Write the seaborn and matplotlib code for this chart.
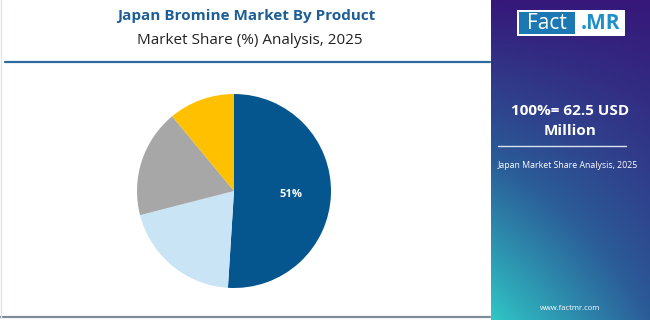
import numpy as np
import matplotlib.pyplot as plt
import seaborn as sns
from matplotlib.colors import LinearSegmentedColormap
from matplotlib.patches import Rectangle

sns.set_style('white')
plt.rcParams['font.family'] = ['Open Sans', 'DejaVu Sans']

# data
products = ['Product A', 'Product B', 'Product C', 'Product D']
shares = [51, 20, 18, 11]
colors = ['#05568F', '#C9E4F4', '#A7A7A7', '#FFC000']

title = 'Japan Bromine Market By Product'
subtitle = 'Market Share (%) Analysis, 2025'
total_text = '100%= 62.5 USD\nMillion'
side_note = 'Japan Market Share Analysis, 2025'
url = 'www.factmr.com'

W, H = 650, 320
fig = plt.figure(figsize=(6.5, 3.2), dpi=100)

# background layer in pixel coords
bg = fig.add_axes([0, 0, 1, 1])
bg.set_xlim(0, W)
bg.set_ylim(H, 0)
bg.axis('off')

# right panel gradient
cmap = LinearSegmentedColormap.from_list('panel', ['#36187A', '#2B5C98', '#30C6C6'])
ny, nx = 200, 100
yy, xx = np.mgrid[0:1:ny * 1j, 0:1:nx * 1j]
grad = yy * (1 - 0.5 * xx)
bg.imshow(grad, cmap=cmap, extent=[491, W, H, 0], aspect='auto', zorder=1)

# borders and separator
bg.plot([5, 490], [62, 62], color='#2C6C9E', lw=1.6, zorder=2)
bg.plot([0, 490], [317, 317], color='#7F8C98', lw=1.6, zorder=2)
bg.plot([1, 1], [0, 317], color='#E2E6EA', lw=1, zorder=2)

bg.text(246, 16, title, ha='center', va='center', fontsize=11,
        fontweight='bold', color='#1D5E96')
bg.text(250, 41, subtitle, ha='center', va='center', fontsize=11,
        color='#222222')

# logo
bg.add_patch(Rectangle((517, 10), 108, 26, facecolor='white', edgecolor='none', zorder=3))
bg.add_patch(Rectangle((519, 12), 56, 22, facecolor='#1C78B2', edgecolor='none', zorder=4))
bg.text(547, 23.5, 'Fact', ha='center', va='center', fontsize=15,
        color='white', zorder=5)
bg.text(600, 23.5, '.MR', ha='center', va='center', fontsize=15,
        fontweight='bold', color='#1E8FC8', zorder=5)

bg.text(570, 121, total_text, ha='center', va='center', fontsize=11,
        fontweight='bold', color='white', linespacing=1.5, zorder=3)
bg.plot([498, 626], [146, 146], color='#D8E4EE', lw=1, zorder=3)
bg.text(568, 166, side_note, ha='center', va='center', fontsize=6.3,
        color='white', zorder=3)
bg.text(570, 308, url, ha='center', va='center', fontsize=5.5,
        color='white', zorder=3)

# pie
cx, cy, r = 234, 191, 97
ax = fig.add_axes([(cx - r) / W, (H - cy - r) / H, 2 * r / W, 2 * r / H])
wedges, _ = ax.pie(shares, colors=colors, startangle=90, counterclock=False,
                   wedgeprops=dict(linewidth=0))
ax.set_xlim(-1, 1)
ax.set_ylim(-1, 1)
ax.set_aspect('auto')
ax.axis('off')

# label on the largest slice
theta = np.deg2rad(90 - 360 * shares[0] / 100 / 2)
ax.text(0.59 * np.cos(theta), 0.59 * np.sin(theta) - 0.02, f'{shares[0]}%',
        ha='center', va='center', fontsize=8, fontweight='bold', color='white')

fig.savefig('out.png', dpi=100)
